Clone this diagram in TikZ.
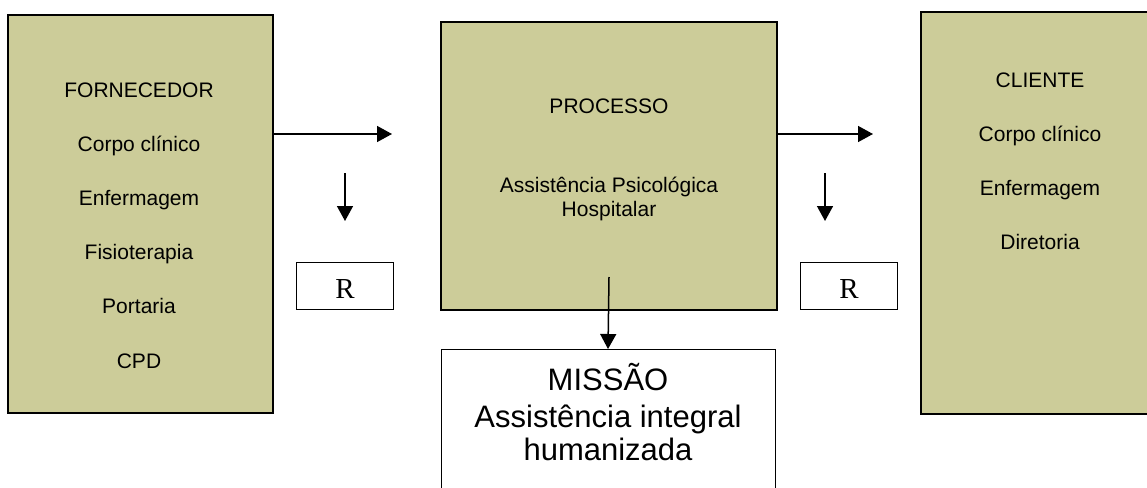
\documentclass[tikz,border=0pt]{standalone}
\usepackage{fontspec}
\setmainfont{Liberation Sans}
\newfontfamily\rfont{Liberation Serif}
\usetikzlibrary{arrows.meta}
\definecolor{boxfill}{RGB}{204,204,153}
\begin{document}
\begin{tikzpicture}
	[
		x=1pt, y=-1pt,
		Arrow/.style={draw, line width=1.5pt, -{Triangle[length=15pt,width=16pt]}}
	]
	\tikzstyle{Box} = [rectangle, anchor=north west, inner sep=0pt, outer sep=0pt, draw=black, line width=2pt, fill=boxfill]
	\tikzstyle{RBox} = [rectangle, minimum width=97pt, minimum height=47pt, inner sep=0pt, draw=black, line width=1pt]
	\tikzstyle{RTxt} = [anchor=base, inner sep=0pt, font=\rfont\fontsize{29}{29}\selectfont]
	\tikzstyle{Txt} = [anchor=base, inner sep=0pt, font=\fontsize{21}{24}\selectfont]
	\tikzstyle{Big} = [anchor=base, inner sep=0pt, font=\fontsize{31}{35}\selectfont]
	\useasboundingbox (0,0) rectangle (1147,487);
	% caixas
	\node [Box, minimum width=265pt, minimum height=398pt] (forn) at (8,15) {};
	\node [Box, minimum width=336pt, minimum height=288pt] (proc) at (441,22) {};
	\node [Box, minimum width=250pt, minimum height=402pt] (clie) at (921,12) {};
	\node [Box, minimum width=334pt, minimum height=160pt, line width=1pt, fill=white] (missao) at (441,349) {};
	\node [RBox] (r1) at (344.5,285.5) {};
	\node [RBox] (r2) at (849,285.5) {};
	\node [RTxt] (r1t) at (345,298) {R};
	\node [RTxt] (r2t) at (849,298) {R};
	% textos
	\foreach \t [count=\i from 0] in {FORNECEDOR, Corpo clínico, Enfermagem, Fisioterapia, Portaria, CPD}
		\node [Txt] (f\i) at (139,97+54.2*\i) {\t};
	\foreach \t [count=\i from 0] in {CLIENTE, Corpo clínico, Enfermagem, Diretoria}
		\node [Txt] (c\i) at (1040,87+54.3*\i) {\t};
	\node [Txt] (p0) at (609,113) {PROCESSO};
	\node [Txt] (p1) at (609,192) {Assistência Psicológica};
	\node [Txt] (p2) at (609,216) {Hospitalar};
	\node [Big] (m1) at (608,390) {MISSÃO};
	\node [Big] (m2) at (608,427) {Assistência integral};
	\node [Big] (m3) at (608,460) {humanizada};
	% setas
	\coordinate (a1) at (392,134);
	\coordinate (a2) at (873,134);
	\coordinate (d1s) at (345,173);
	\coordinate (d1e) at (345,221);
	\coordinate (d2s) at (825,173);
	\coordinate (d2e) at (825,221);
	\coordinate (m0) at (609,277);
	\draw [Arrow] (forn.east |- a1) -- (a1);
	\draw [Arrow] (proc.east |- a2) -- (a2);
	\draw [Arrow] (d1s) -- (d1e);
	\draw [Arrow] (d2s) -- (d2e);
	\draw [Arrow] (m0) -- (missao.north);
\end{tikzpicture}
\end{document}
